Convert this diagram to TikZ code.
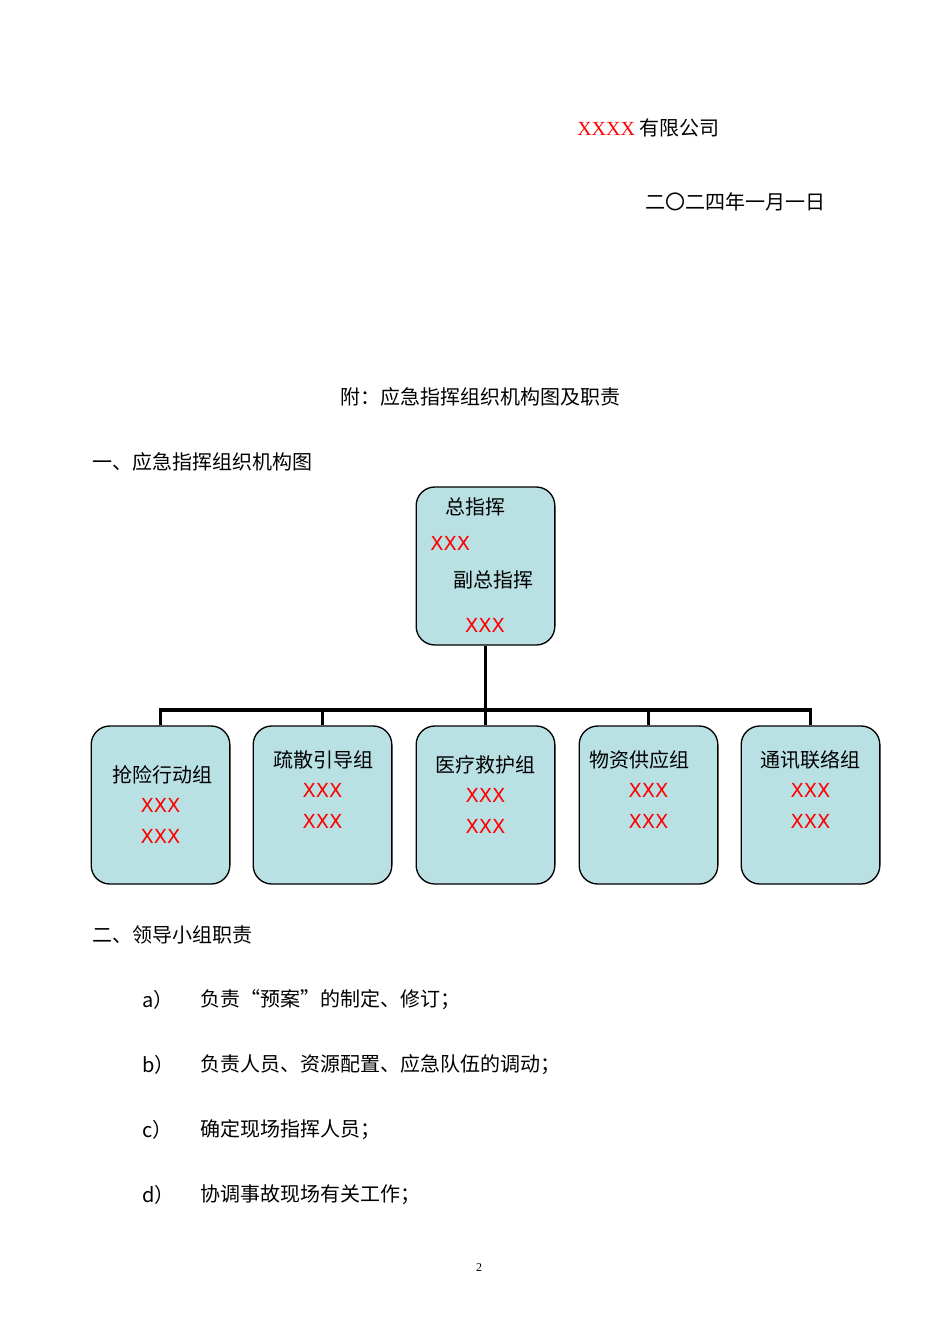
\documentclass[tikz,border=0pt]{standalone}
\usepackage{fontspec}
\setmainfont{Noto Sans CJK SC}
\newfontfamily\serifx{Liberation Serif}
\newfontfamily\sansx{DejaVu Sans}
\definecolor{boxfill}{HTML}{B9E0E3}
\begin{document}
\begin{tikzpicture}[x=0.75pt,y=-0.75pt,
  every node/.style={inner sep=0pt,font=\fontsize{15pt}{18pt}\selectfont},
  orgbox/.style={draw=black,line width=1pt,fill=boxfill,rounded corners=14pt,minimum width=104pt,minimum height=118.5pt},
  red/.style={text=red,font=\sansx\fontsize{14.5pt}{17pt}\selectfont},
  link/.style={line width=2.6pt}]
\path[use as bounding box,fill=white] (0,0) rectangle (950,1344);
\node[anchor=west] (co) at (577,128) {{\serifx\color{red}XXXX} 有限公司};
\node[anchor=west] (dt) at (645,202) {二〇二四年一月一日};
\node (ti) at (480,397) {附：应急指挥组织机构图及职责};
\node[anchor=west] (h1) at (92,462) {一、应急指挥组织机构图};
\node[orgbox] (top) at (485.5,566) {};
\node[anchor=west] (t1) at (445,507) {总指挥};
\node[red,anchor=west] (t2) at (430,543) {XXX};
\node[anchor=west] (t3) at (453,580) {副总指挥};
\node[red] (t4) at (485,625) {XXX};
\foreach \n/\x/\lab/\ya/\yb/\yc/\cx in {b1/160.5/抢险行动组/775/805/836/162,b2/322.5/疏散引导组/760/790/821/323,b3/485.5/医疗救护组/765/795/826/485,b4/648.5/物资供应组/760/790/821/639,b5/810.5/通讯联络组/760/790/821/810}{
  \node[orgbox] (\n) at (\x,805) {};
  \node (\n l) at (\cx,\ya) {\lab};
  \node[red] (\n a) at (\x,\yb) {XXX};
  \node[red] (\n b) at (\x,\yc) {XXX};
}
\coordinate (bar) at (485.5,710);
\draw[link] (top.south) -- (bar);
\draw[link] (b1.north) |- (b5.north |- bar) -- (b5.north);
\foreach \n in {b2,b3,b4}{\draw[link] (\n.north) -- (\n.north |- bar);}
\node[anchor=west] (h2) at (92,935) {二、领导小组职责};
\foreach \k/\y/\t in {a/1000/负责“预案”的制定、修订；,b/1065/负责人员、资源配置、应急队伍的调动；,c/1130/确定现场指挥人员；,d/1195/协调事故现场有关工作；}{
  \node[anchor=west] (m\k) at (142,\y) {\k）};
  \node[anchor=west] (i\k) at (200,\y) {\t};
}
\node (pg) at (479,1268) {\serifx\fontsize{9pt}{10pt}\selectfont 2};
\end{tikzpicture}
\end{document}
